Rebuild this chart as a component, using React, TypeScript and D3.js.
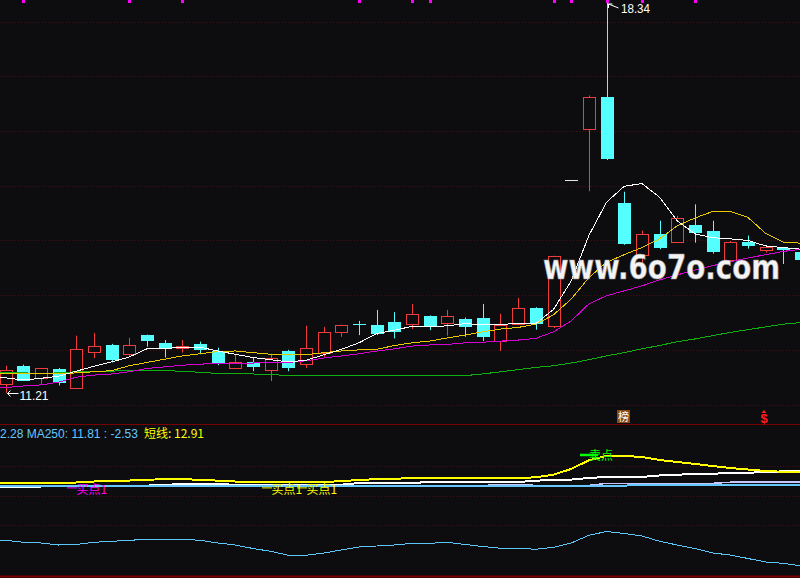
import * as d3 from "d3"

// daily bars
const opens = [11.37, 11.71, 11.49, 11.65, 11.31, 11.97, 12.09, 11.92, 12.27, 12.13, 12.03, 12.11, 11.98, 11.66, 11.78, 11.64, 11.98, 11.74, 11.95, 12.32, 12.47, 12.46, 12.51, 12.47, 12.62, 12.50, 12.57, 12.59, 12.16, 12.47, 12.77, 12.43, 15.11, 16.04, 16.62, 14.69, 13.73, 14.12, 13.98, 14.29, 14.18, 13.64, 13.98, 13.82, 13.87, 13.79]
const highs = [11.71, 11.73, 11.66, 11.67, 12.26, 12.31, 12.11, 12.22, 12.28, 12.18, 12.18, 12.15, 12.04, 11.92, 11.85, 11.93, 12.00, 12.44, 12.42, 12.46, 12.53, 12.73, 12.69, 12.84, 12.63, 12.73, 12.59, 12.84, 12.66, 12.95, 12.78, 13.72, 15.11, 16.65, 18.34, 14.89, 14.18, 14.36, 14.45, 14.66, 14.36, 13.99, 14.09, 13.89, 13.88, 13.80]
const lows = [11.21, 11.43, 11.38, 11.35, 11.31, 11.85, 11.77, 11.89, 12.06, 11.86, 11.95, 11.92, 11.72, 11.65, 11.61, 11.43, 11.61, 11.67, 11.85, 12.24, 12.27, 12.27, 12.21, 12.38, 12.36, 12.26, 12.24, 12.16, 11.98, 12.45, 12.37, 12.40, 15.11, 14.90, 15.47, 13.92, 13.59, 13.84, 13.97, 13.96, 13.76, 13.63, 13.85, 13.78, 13.57, 13.62]
const closes = [11.63, 11.44, 11.66, 11.40, 12.01, 12.07, 11.82, 12.09, 12.16, 12.03, 12.07, 12.00, 11.75, 11.78, 11.69, 11.85, 11.66, 12.04, 12.33, 12.46, 12.46, 12.29, 12.33, 12.66, 12.41, 12.62, 12.41, 12.24, 12.46, 12.77, 12.47, 13.72, 15.11, 16.62, 15.48, 13.93, 14.12, 13.87, 14.41, 14.13, 13.78, 13.98, 13.89, 13.88, 13.83, 13.65]

// moving averages on the main panel
const ma5 = [11.49, 11.45, 11.48, 11.52, 11.61, 11.70, 11.78, 11.87, 12.02, 12.03, 12.04, 12.05, 11.98, 11.92, 11.86, 11.82, 11.78, 11.81, 11.91, 12.01, 12.13, 12.30, 12.36, 12.43, 12.42, 12.44, 12.48, 12.46, 12.46, 12.49, 12.48, 12.74, 13.26, 14.09, 14.70, 14.99, 15.04, 14.79, 14.36, 14.12, 14.05, 14.03, 14.00, 13.90, 13.87, 13.84]
const ma10 = [11.57, 11.57, 11.57, 11.56, 11.58, 11.60, 11.62, 11.71, 11.77, 11.83, 11.89, 11.93, 11.97, 11.98, 11.95, 11.92, 11.91, 11.91, 11.95, 11.98, 12.00, 12.01, 12.08, 12.13, 12.16, 12.22, 12.27, 12.33, 12.38, 12.41, 12.47, 12.64, 12.93, 13.32, 13.60, 13.74, 13.87, 14.03, 14.27, 14.41, 14.53, 14.53, 14.42, 14.13, 13.97, 13.95]
const ma20 = [11.31, 11.34, 11.36, 11.41, 11.50, 11.54, 11.56, 11.60, 11.66, 11.69, 11.72, 11.74, 11.75, 11.75, 11.76, 11.77, 11.77, 11.80, 11.85, 11.89, 11.93, 11.98, 12.02, 12.07, 12.09, 12.10, 12.13, 12.14, 12.16, 12.18, 12.21, 12.33, 12.53, 12.84, 12.99, 13.08, 13.17, 13.28, 13.37, 13.46, 13.54, 13.61, 13.68, 13.74, 13.80, 13.84]
const ma60 = [11.58, 11.58, 11.57, 11.58, 11.60, 11.60, 11.61, 11.63, 11.63, 11.62, 11.61, 11.59, 11.57, 11.56, 11.56, 11.55, 11.53, 11.53, 11.53, 11.53, 11.53, 11.53, 11.53, 11.53, 11.53, 11.53, 11.53, 11.56, 11.60, 11.64, 11.68, 11.71, 11.76, 11.82, 11.89, 11.95, 12.02, 12.08, 12.15, 12.20, 12.26, 12.32, 12.37, 12.42, 12.47, 12.50]

// lower panel
const shortLine = [11.99, 11.99, 11.99, 11.99, 12.06, 12.14, 12.18, 12.22, 12.29, 12.32, 12.32, 12.29, 12.21, 12.14, 12.10, 12.08, 12.06, 12.06, 12.08, 12.18, 12.26, 12.34, 12.37, 12.41, 12.43, 12.45, 12.45, 12.43, 12.39, 12.43, 12.48, 12.70, 13.16, 13.87, 14.22, 14.22, 14.14, 13.89, 13.73, 13.57, 13.40, 13.24, 13.12, 13.00, 12.93, 12.91]
const midLine = [11.69, 11.69, 11.73, 11.81, 11.81, 11.81, 11.81, 11.81, 11.81, 11.85, 11.96, 11.96, 11.96, 11.86, 11.86, 11.86, 11.86, 11.88, 11.88, 11.88, 12.02, 12.02, 12.02, 12.02, 12.10, 12.10, 12.10, 12.10, 12.10, 12.10, 12.21, 12.26, 12.30, 12.43, 12.51, 12.51, 12.51, 12.63, 12.70, 12.74, 12.78, 12.82, 12.86, 12.90, 12.97, 12.97]
const ma250 = [11.80, 11.80, 11.80, 11.80, 11.80, 11.80, 11.80, 11.80, 11.80, 11.80, 11.80, 11.80, 11.80, 11.75, 11.75, 11.80, 11.80, 11.80, 11.80, 11.80, 11.80, 11.80, 11.80, 11.80, 11.80, 11.80, 11.80, 11.80, 11.80, 11.80, 11.80, 11.80, 11.80, 11.80, 11.80, 11.80, 11.88, 11.88, 11.88, 11.88, 11.88, 11.88, 11.88, 11.88, 11.88, 11.88]
const longLine = [11.80, 11.80, 11.80, 11.80, 11.80, 11.80, 11.80, 11.80, 11.80, 11.80, 11.80, 11.80, 11.80, 11.80, 11.80, 11.80, 11.80, 11.80, 11.80, 11.80, 11.80, 11.80, 11.80, 11.80, 11.80, 11.80, 11.80, 11.80, 11.91, 11.91, 11.82, 11.82, 11.82, 11.82, 11.99, 11.99, 11.99, 11.99, 11.99, 11.99, 11.99, 12.08, 12.08, 12.08, 12.08, 12.08]
const osc = [0.02, -0.18, -0.25, -0.45, -0.40, -0.18, -0.08, 0.02, 0.12, 0.12, 0.12, 0.02, -0.25, -0.45, -0.80, -1.08, -1.48, -1.48, -1.25, -0.95, -0.65, -0.55, -0.45, -0.28, -0.28, -0.18, -0.40, -0.60, -0.78, -0.78, -0.88, -0.68, -0.25, 0.52, 0.90, 0.70, 0.45, -0.08, -0.45, -0.80, -1.25, -1.45, -1.80, -2.15, -2.28, -2.53]

const priceTicks = [11, 12, 13, 14, 15, 16, 17, 18]
const lowerGridTicks = [1, 2, 3]
const topMarks = [1, 7, 10, 20, 23, 24, 31, 32, 34, 36, 39]
const buySignals = [
  { i: 4, text: "买点1", color: "#ff00ff" },
  { i: 15, text: "买点1", color: "#ffff00" },
  { i: 17, text: "买点1", color: "#ffff00" },
]
const sellSignals = [{ i: 33, text: "卖点", color: "#00ff00" }]
const events = [
  { i: 35, kind: "榜" },
  { i: 43, kind: "$" },
]
const legendBlue = "2.28 MA250: 11.81 : -2.53"
const legendYellow = "短线: 12.91"

const BG = "#0d0d10"
const RED = "#f03c3c"
const CYAN = "#54ffff"
const GRID = "#4a0e0e"
const FONT = "'Liberation Sans', Arial, sans-serif"
const CJK = "'Noto Sans CJK SC', sans-serif"

const x = d3.scaleLinear().domain([0, opens.length - 1]).range([5.5, 801])
const y = d3.scaleLinear().domain([11, 18]).range([404.6, 21.6])
const yLow = d3.scaleLinear().domain([11, 15]).range([495.5, 446.4])
const yOsc = d3.scaleLinear().domain([-3, 1]).range([570.5, 530.5])
const yGridLow = d3.scaleLinear().domain([0, 4]).range([435.9, 555.1])

// the lines run out to the left edge of the window, as in the terminal
const linePath = (vals: number[], sc: d3.ScaleLinear<number, number>) => {
  const body = d3.line<number>().x((_, i) => x(i)).y((v) => sc(v))(vals) || ""
  return `M0,${sc(vals[0])}L` + body.slice(1)
}

function Candle({ i }: { i: number }) {
  const o = opens[i], c = closes[i], h = highs[i], l = lows[i]
  const cx = Math.round(x(i))
  const wx = cx + 0.5
  const top = Math.round(y(Math.max(o, c)))
  const bot = Math.round(y(Math.min(o, c)))
  if (c > o) {
    return (
      <g stroke={RED}>
        <line x1={wx} x2={wx} y1={y(h)} y2={top} />
        <line x1={wx} x2={wx} y1={bot} y2={y(l)} />
        <rect x={cx - 5.5} y={top + 0.5} width={12} height={Math.max(1, bot - top)} fill={BG} />
      </g>
    )
  }
  const col = c < o ? CYAN : "#e6e6e6"
  return (
    <g>
      {h > l && <line x1={wx} x2={wx} y1={y(h)} y2={y(l)} stroke={col} />}
      <rect x={cx - 6} y={top} width={13} height={Math.max(1, bot - top)} fill={col} />
    </g>
  )
}

export default function App() {
  const hiI = d3.maxIndex(highs)
  const loI = d3.minIndex(lows)
  const hx = Math.round(x(hiI)) + 0.5
  const hy = y(highs[hiI])
  const lx = Math.round(x(loI)) + 0.5
  const ly = Math.round(y(lows[loI])) + 0.5

  return (
    <svg width={800} height={578} style={{ display: "block", background: BG }}>
      <style>{`body{margin:0;background:${BG}}`}</style>
      <rect width={800} height={578} fill={BG} />

      {/* grid */}
      {priceTicks.map((p) => (
        <line key={p} x1={0} x2={800} y1={Math.round(y(p)) + 0.5} y2={Math.round(y(p)) + 0.5}
          stroke={GRID} strokeDasharray="1 2" />
      ))}
      {lowerGridTicks.map((t) => (
        <line key={t} x1={0} x2={800} y1={Math.round(yGridLow(t)) + 0.5} y2={Math.round(yGridLow(t)) + 0.5}
          stroke={GRID} strokeDasharray="1 2" />
      ))}
      <line x1={0} x2={800} y1={424.5} y2={424.5} stroke="#780000" />
      <line x1={0} x2={800} y1={576.5} y2={576.5} stroke="#780000" strokeWidth={2} />

      {/* top signal ticks */}
      {topMarks.map((i) => (
        <rect key={i} x={Math.round(x(i)) - 1} y={0} width={3} height={3} fill="#ff00ff" />
      ))}

      {/* candles */}
      {opens.map((_, i) => <Candle key={i} i={i} />)}

      {/* moving averages */}
      <g fill="none" strokeWidth={1} shapeRendering="crispEdges">
        <path d={linePath(ma60, y)} stroke="#10b010" />
        <path d={linePath(ma20, y)} stroke="#d400d4" />
        <path d={linePath(ma10, y)} stroke="#e8c800" />
        <path d={linePath(ma5, y)} stroke="#ffffff" />
      </g>

      {/* high / low labels */}
      <g stroke="#ffffff" fill="none">
        <line x1={hx + 1} y1={hy + 1} x2={hx + 11} y2={hy + 5} />
        <line x1={hx + 1} y1={hy + 1} x2={hx + 5} y2={hy + 1} />
        <line x1={hx + 1} y1={hy + 1} x2={hx + 1} y2={hy + 5} />
        <line x1={lx + 1} y1={ly} x2={lx + 12} y2={ly} />
        <line x1={lx + 1} y1={ly} x2={lx + 4} y2={ly - 3} />
        <line x1={lx + 1} y1={ly} x2={lx + 4} y2={ly + 3} />
      </g>
      <text x={hx + 13.5} y={hy + 10.5} fill="#ffffff" fontFamily={FONT} fontSize={13.5}
        textLength={29} lengthAdjust="spacingAndGlyphs">{highs[hiI].toFixed(2)}</text>
      <text x={lx + 13} y={ly + 6} fill="#ffffff" fontFamily={FONT} fontSize={13.5}
        textLength={29} lengthAdjust="spacingAndGlyphs">{lows[loI].toFixed(2)}</text>

      {/* watermark */}
      <text transform="translate(543,279) scale(0.84,1)" fill="#f4f4f4" stroke="#9a9a9a" strokeWidth={0.6}
        fontFamily="'DejaVu Sans', sans-serif" fontWeight="bold" fontSize={33}>www.6o7o.com</text>

      {/* event icons above the divider */}
      {events.map((e) => {
        const cx = Math.round(x(e.i))
        return e.kind === "榜" ? (
          <g key={e.i}>
            <rect x={cx - 7} y={410} width={13} height={13} fill="#8a4a12" />
            <text x={cx - 0.5} y={421} textAnchor="middle" fill="#ffffff" fontSize={11}
              fontFamily={CJK}>{e.kind}</text>
          </g>
        ) : (
          <g key={e.i} fill="#ff1e1e">
            <path d={`M${cx - 2},${410} l-2.5,3 h5 z`} />
            <text x={cx - 2} y={423} textAnchor="middle" fontSize={13} fontWeight="bold"
              fontFamily={FONT}>{e.kind}</text>
          </g>
        )
      })}

      {/* lower panel legend */}
      <text x={0} y={437.5} fontFamily={FONT} fontSize={12} fill="#64c8ff">{legendBlue}</text>
      <text x={144} y={437.5} fontFamily={CJK} fontSize={12} fill="#ffff00">{legendYellow}</text>

      {/* lower panel lines */}
      <g fill="none" shapeRendering="crispEdges">
        <path d={linePath(longLine, yLow)} stroke="#c8c8ff" strokeWidth={1.5} />
        <path d={linePath(midLine, yLow)} stroke="#ffffff" strokeWidth={2} />
        <path d={linePath(ma250, yLow)} stroke="#64c8ff" strokeWidth={2} />
        <path d={linePath(shortLine, yLow)} stroke="#ffff00" strokeWidth={2} />
        <path d={linePath(osc, yOsc)} stroke="#5ac8fa" strokeWidth={1} />
      </g>

      {/* signals */}
      {buySignals.map((s, k) => {
        const sx = Math.round(x(s.i))
        const sy = yLow(11.62)
        return (
          <g key={k}>
            <line x1={sx - 9} x2={sx + 1} y1={sy} y2={sy} stroke={s.color} strokeWidth={1} />
            <text x={sx + 0.5} y={sy + 6} fill={s.color} fontSize={12} fontFamily={CJK}>{s.text}</text>
          </g>
        )
      })}
      {sellSignals.map((s, k) => {
        const sx = Math.round(x(s.i))
        const sy = yLow(14.3)
        return (
          <g key={k}>
            <line x1={sx - 9} x2={sx + 9} y1={sy} y2={sy} stroke={s.color} strokeWidth={2.5} />
            <text x={sx} y={sy + 5} fill={s.color} fontSize={12} fontFamily={CJK}>{s.text}</text>
          </g>
        )
      })}
    </svg>
  )
}
